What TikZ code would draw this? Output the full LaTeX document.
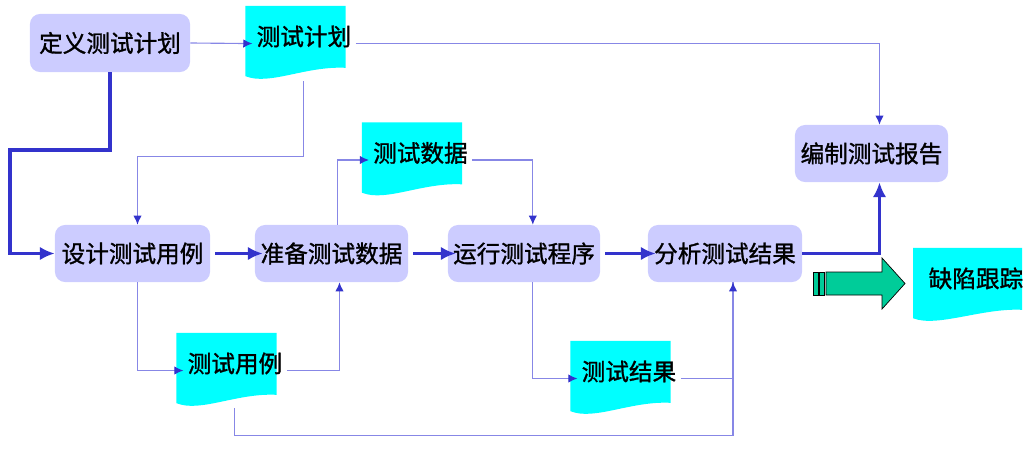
\documentclass[tikz,border=0pt]{standalone}
\usepackage{fontspec}
\newfontfamily\cjk[FakeBold=1.2]{Noto Sans CJK SC}
\usepackage{xcolor}
\usetikzlibrary{arrows.meta}
\definecolor{boxfill}{RGB}{204,204,255}
\definecolor{docfill}{RGB}{0,255,255}
\definecolor{thinblue}{RGB}{135,135,230}
\definecolor{thickblue}{RGB}{51,51,204}
\definecolor{bigarrow}{RGB}{0,204,153}
\newcommand{\doctext}[1]{\makebox[2.3cm][l]{\hspace*{0.18cm}#1}}

\begin{document}
\begin{tikzpicture}[x=0.025cm, y=-0.025cm,
		every node/.style={font=\cjk\fontsize{16.8}{19}\selectfont},
		stepbox/.style={rounded corners=0.25cm, fill=boxfill,
			minimum width=3.875cm, minimum height=1.425cm},
		doc/.style={minimum width=2.5cm, minimum height=1.875cm,
			inner xsep=0.1cm, text depth=0.4cm,
			path picture={\fill[docfill] (path picture bounding box.north west)
				-- (path picture bounding box.north east)
				-- ([yshift=0.33cm]path picture bounding box.south east)
				.. controls ([xshift=-1.0cm,yshift=0.38cm]path picture bounding box.south east)
				and ([xshift=0.6cm,yshift=-0.12cm]path picture bounding box.south west)
				.. ([yshift=0.12cm]path picture bounding box.south west) -- cycle;}},
		thinline/.style={draw=thinblue, line width=0.8pt,
			-{Latex[length=6.5pt,width=6pt,color=thickblue]}},
		thickline/.style={draw=thickblue, line width=2.8pt, -{Latex[length=10.5pt,width=9.5pt]}},
		intodoc/.style={shorten >=-0.18cm},
		outofdoc/.style={shorten <=0.25cm},
		overlap/.style={shorten <=0.125cm, shorten >=-0.2cm}]
	\useasboundingbox (0,0) rectangle (1029,448);

	% Top row
	\node[stepbox, minimum width=4cm, minimum height=1.45cm] (define) at (110,43) {定义测试计划};
	\node[doc] (plan) at (295.5,43.5) {\doctext{测试计划}};
	\node[stepbox, minimum width=3.825cm] (report) at (871.5,153.5) {编制测试报告};

	% Main row
	\node[stepbox] (design) at (132.5,253.5) {设计测试用例};
	\node[stepbox, minimum width=3.825cm] (prepare) at (331.5,253.5) {准备测试数据};
	\node[stepbox, minimum width=3.8cm] (run) at (524,253.5) {运行测试程序};
	\node[stepbox, minimum width=3.85cm] (analyze) at (725,253.5) {分析测试结果};

	% Documents
	\node[doc] (datadoc) at (412,160) {\doctext{测试数据}};
	\node[doc] (casedoc) at (226.5,370.5) {\doctext{测试用例}};
	\node[doc] (resultdoc) at (620.5,378.5) {\doctext{测试结果}};
	\node[doc, minimum width=2.725cm] (defect) at (967.5,285.5) {\doctext{缺陷跟踪}};

	% Thin connectors
	\draw[thinline, intodoc] (define.east) -- (plan.west);
	\draw[thinline, outofdoc] (plan.east) -| ([xshift=0.2cm]report.north);
	\draw[thinline] ([xshift=0.2cm]plan.south) -- ++(0,75) -| ([xshift=0.125cm]design.north);
	\draw[thinline, intodoc] ([xshift=0.15cm]prepare.north) |- (datadoc.west);
	\draw[thinline, outofdoc] (datadoc.east) -| ([xshift=0.22cm]run.north);
	\draw[thinline, intodoc] ([xshift=0.125cm]design.south) |- (casedoc.west);
	\draw[thinline, outofdoc] (casedoc.east) -| ([xshift=0.2cm]prepare.south);
	\draw[thinline, -, outofdoc] (resultdoc.east) -| ([xshift=0.2cm]analyze.south);
	\draw[thinline] ([xshift=0.2cm]casedoc.south) -- ++(0,27) -| ([xshift=0.2cm]analyze.south);
	\draw[thinline, intodoc] ([xshift=0.22cm]run.south) |- (resultdoc.west);

	% Thick connectors
	\draw[thickline] (define.south) |- ++(-100,78) |- (design.west);
	\draw[thickline, overlap] (design) -- (prepare);
	\draw[thickline, overlap] (prepare) -- (run);
	\draw[thickline, overlap] (run) -- (analyze);
	\draw[thickline] (analyze.east) -| ([xshift=0.2cm]report.south);

	% Block arrow to defect tracking
	\filldraw[fill=bigarrow, draw=black, line width=0.5pt] (813,272) rectangle (818,295);
	\filldraw[fill=bigarrow, draw=black, line width=0.5pt] (819,272) rectangle (824,295);
	\filldraw[fill=bigarrow, draw=black, line width=0.5pt] (826,272) -- (882,272) -- (882,258)
		-- (905,283.5) -- (882,309) -- (882,295) -- (826,295) -- cycle;
\end{tikzpicture}
\end{document}
